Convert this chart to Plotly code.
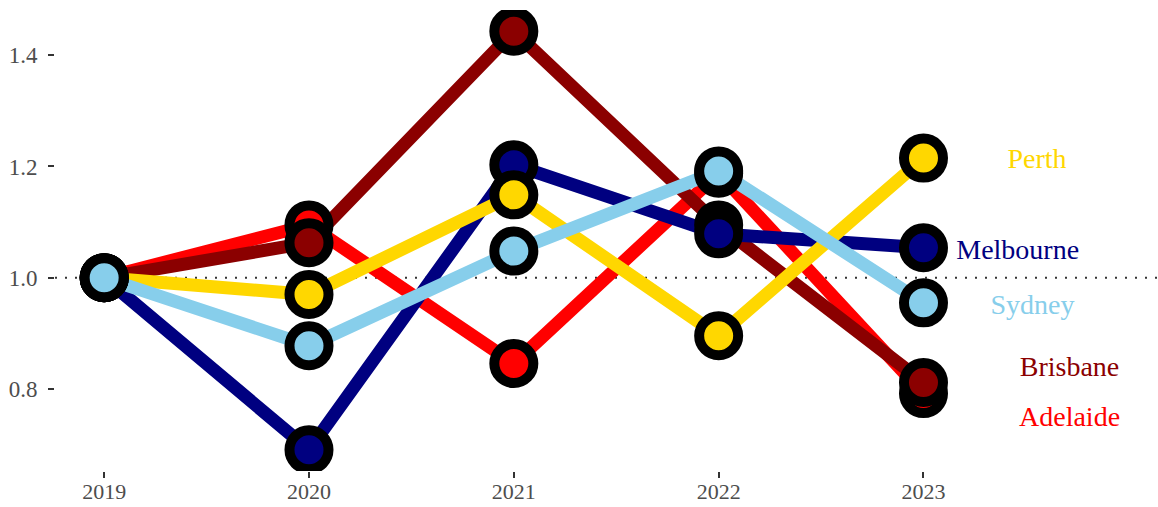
import plotly.graph_objects as go

years = [2019, 2020, 2021, 2022, 2023]
cities = ["Adelaide", "Brisbane", "Melbourne", "Perth", "Sydney"]
adelaide = [1.0, 1.095, 0.846, 1.188, 0.792]
brisbane = [1.0, 1.063, 1.443, 1.095, 0.812]
melbourne = [1.0, 0.691, 1.203, 1.079, 1.054]
perth = [1.0, 0.970, 1.149, 0.896, 1.215]
sydney = [1.0, 0.878, 1.048, 1.192, 0.955]
y_ticks = [0.8, 1.0, 1.2, 1.4]

series = {"Adelaide": adelaide, "Brisbane": brisbane, "Melbourne": melbourne,
          "Perth": perth, "Sydney": sydney}
colors = {"Adelaide": "#FF0000", "Brisbane": "#8B0000", "Melbourne": "#000080",
          "Perth": "#FFD700", "Sydney": "#87CEEB"}
# label placement (repelled text positions)
label_x = {"Adelaide": 2023.713, "Brisbane": 2023.713, "Melbourne": 2023.46,
           "Perth": 2023.554, "Sydney": 2023.532}
label_y = {"Adelaide": 0.747, "Brisbane": 0.837, "Melbourne": 1.047,
           "Perth": 1.209, "Sydney": 0.947}

FONT = "Liberation Serif, Times New Roman, serif"

fig = go.Figure()

# reference line
fig.add_shape(type="line", xref="paper", x0=0, x1=1, yref="y", y0=1.0, y1=1.0,
              line=dict(color="#333333", width=2, dash="2px,8px"), layer="below")

for c in cities:
    fig.add_trace(go.Scatter(x=years, y=series[c], mode="lines",
                             line=dict(color=colors[c], width=13),
                             showlegend=False, hoverinfo="skip"))
for c in cities:
    fig.add_trace(go.Scatter(x=years, y=series[c], mode="markers",
                             marker=dict(color=colors[c], size=39,
                                         line=dict(color="black", width=10)),
                             showlegend=False, name=c))
for c in cities:
    fig.add_trace(go.Scatter(x=[label_x[c]], y=[label_y[c]], mode="text",
                             text=[c], textposition="middle center",
                             textfont=dict(family=FONT, size=28, color=colors[c]),
                             showlegend=False, hoverinfo="skip"))

fig.update_layout(
    width=1158, height=507,
    margin=dict(l=55, r=1, t=10, b=36, autoexpand=False),
    paper_bgcolor="white", plot_bgcolor="white",
    font=dict(family=FONT, size=23, color="#4d4d4d"),
)
fig.update_xaxes(range=[2018.76, 2024.14], tickvals=years, ticktext=[str(y) for y in years],
                 showgrid=False, zeroline=False, showline=False, automargin=False,
                 ticks="outside", ticklen=6, tickwidth=2, tickcolor="#333333",
                 ticklabelstandoff=-5,
                 tickfont=dict(family=FONT, size=22, color="#4d4d4d"))
fig.update_yaxes(range=[0.653, 1.481], tickvals=y_ticks, tickformat=".1f",
                 showgrid=False, zeroline=False, showline=False, automargin=False,
                 ticks="outside", ticklen=6, tickwidth=2, tickcolor="#333333",
                 ticklabelstandoff=6,
                 tickfont=dict(family=FONT, size=23, color="#4d4d4d"))

fig.write_html("out.html", config={"displayModeBar": False},
               post_script="document.body.style.margin='0';document.body.style.overflow='hidden';")
